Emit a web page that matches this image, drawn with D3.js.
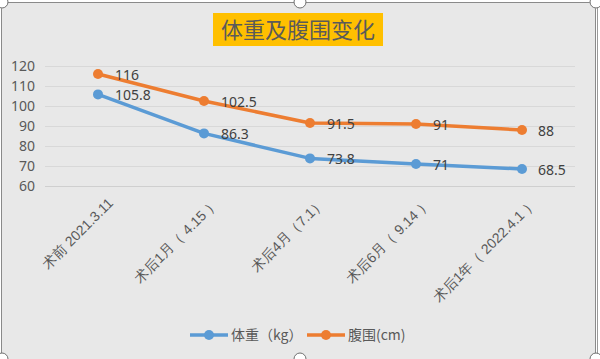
<!DOCTYPE html>
<html>
<head>
<meta charset="utf-8">
<script src="https://cdn.jsdelivr.net/npm/d3@7"></script>
<style>
  body { margin: 0; background: #fff; }
  svg { display: block; font-family: "Noto Sans CJK SC", "Noto Sans", sans-serif; }
</style>
</head>
<body>
<svg width="600" height="359"></svg>
<script>
// chart data
var categories = ["术前 2021.3.11", "术后1月（ 4.15 ）", "术后4月（7.1）", "术后6月（ 9.14 ）", "术后1年（ 2022.4.1 ）"];
var weight = [105.8, 86.3, 73.8, 71, 68.5];
var waist = [116, 102.5, 91.5, 91, 88];
var yTicks = [60, 70, 80, 90, 100, 110, 120];
var seriesNames = ["体重（kg）", "腹围(cm)"];

var colors = ["#5b9bd5", "#ed7d31"];
var margin = {top: 66, left: 45, right: 25, bottom: 173};
var width = 600, height = 359;

var svg = d3.select("svg");

// chart frame
svg.append("rect")
    .attr("x", 1.5).attr("y", 2.5)
    .attr("width", 594).attr("height", 362)
    .attr("rx", 6)
    .attr("fill", "#e8e8e8")
    .attr("stroke", "#8a8a8a");

var x = d3.scaleBand()
    .domain(categories)
    .range([margin.left, width - margin.right]);

var y = d3.scaleLinear()
    .domain([60, 120])
    .range([186, 66]);

// gridlines
svg.append("g")
    .selectAll("line")
    .data(yTicks)
    .enter().append("line")
        .attr("x1", margin.left)
        .attr("x2", width - margin.right)
        .attr("y1", function(d) { return y(d) + 0.5; })
        .attr("y2", function(d) { return y(d) + 0.5; })
        .attr("stroke", function(d) { return d === 60 ? "#cfcfcf" : "#d8d8d8"; })
        .attr("stroke-width", 1);

// y axis labels
var yAxis = d3.axisLeft(y).tickValues(yTicks).tickSize(0).tickPadding(10);
var gy = svg.append("g")
    .attr("transform", "translate(" + margin.left + ",0)")
    .call(yAxis);
gy.select(".domain").remove();
gy.selectAll("text")
    .attr("fill", "#595959")
    .style("font-size", "14px")
    .style("font-family", "'Noto Sans', sans-serif");

// x axis labels, rotated
var xAxis = d3.axisBottom(x).tickSize(0).tickPadding(0);
var gx = svg.append("g")
    .attr("transform", "translate(0,197)")
    .call(xAxis);
gx.select(".domain").remove();
gx.selectAll("text")
    .attr("fill", "#595959")
    .style("font-size", "14px")
    .attr("text-anchor", "end")
    .attr("dy", "0.7em")
    .attr("y", 0)
    .attr("transform", "translate(9,0) rotate(-45)");

var line = d3.line()
    .x(function(d, i) { return x(categories[i]) + x.bandwidth() / 2; })
    .y(function(d) { return y(d); });

var allSeries = [weight, waist];

allSeries.forEach(function(values, s) {
    var g = svg.append("g");
    g.append("path")
        .datum(values)
        .attr("d", line)
        .attr("fill", "none")
        .attr("stroke", colors[s])
        .attr("stroke-width", 3.5)
        .attr("stroke-linejoin", "round");

    g.selectAll("circle")
        .data(values)
        .enter().append("circle")
            .attr("cx", function(d, i) { return x(categories[i]) + x.bandwidth() / 2; })
            .attr("cy", function(d) { return y(d); })
            .attr("r", 5)
            .attr("fill", colors[s]);

    g.selectAll("text")
        .data(values)
        .enter().append("text")
            .attr("x", function(d, i) { return x(categories[i]) + x.bandwidth() / 2 + (i === 4 ? 16 : 17); })
            .attr("y", function(d) { return y(d) + 1; })
            .attr("dy", "0.35em")
            .attr("fill", "#404040")
            .style("font-size", "14px")
            .style("font-family", "'Noto Sans', sans-serif")
            .text(function(d) { return d; });
});

// title
svg.append("rect")
    .attr("x", 213).attr("y", 13)
    .attr("width", 170).attr("height", 33)
    .attr("fill", "#ffc000");
svg.append("text")
    .attr("x", 298).attr("y", 30)
    .attr("dy", "0.36em")
    .attr("text-anchor", "middle")
    .attr("fill", "#5a5a5a")
    .style("font-size", "22px")
    .text("体重及腹围变化");

// legend
var legendX = [190, 307];
seriesNames.forEach(function(name, s) {
    var lg = svg.append("g").attr("transform", "translate(" + legendX[s] + ",335)");
    lg.append("line")
        .attr("x1", 0).attr("x2", 38)
        .attr("stroke", colors[s]).attr("stroke-width", 3.5);
    lg.append("circle")
        .attr("cx", 19).attr("r", 5).attr("fill", colors[s]);
    lg.append("text")
        .attr("x", 41).attr("dy", "0.36em")
        .attr("fill", "#595959")
        .style("font-size", "14px")
        .text(name);
});

// selection handles and sheet edge
svg.append("line")
    .attr("x1", 597.5).attr("x2", 597.5).attr("y1", 0).attr("y2", height)
    .attr("stroke", "#9a9a9a");
[[300, 2], [596, 2], [2, 359], [300, 359], [596, 359], [2, 2]].forEach(function(p) {
    svg.append("circle")
        .attr("cx", p[0]).attr("cy", p[1]).attr("r", 6)
        .attr("fill", "#fff").attr("stroke", "#707070");
});
</script>
</body>
</html>
